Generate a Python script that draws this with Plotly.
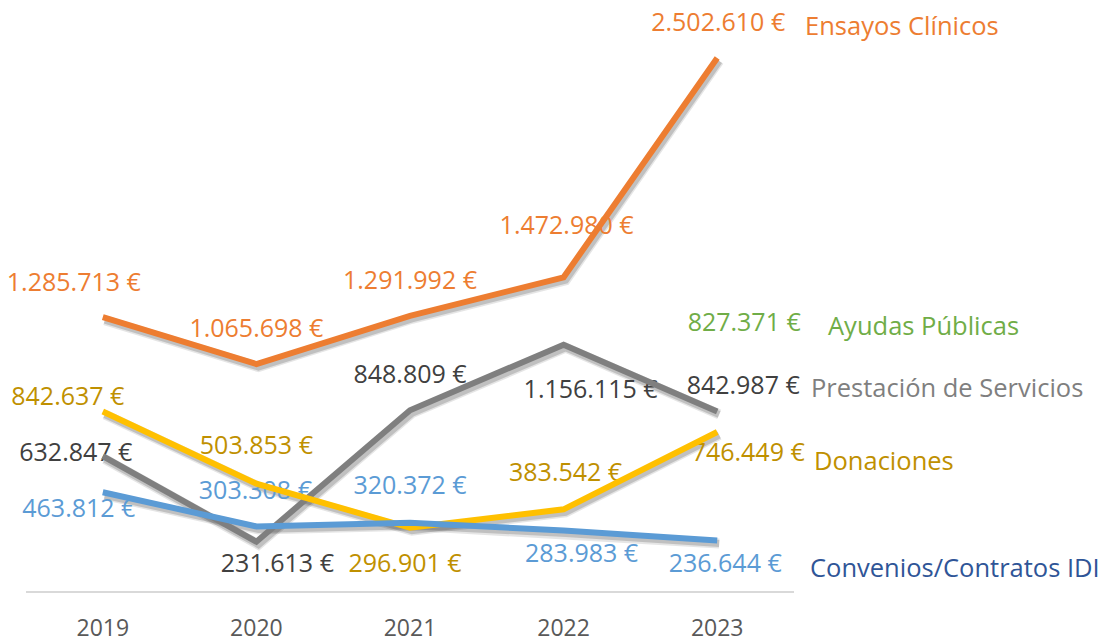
import plotly.graph_objects as go

years = ["2019", "2020", "2021", "2022", "2023"]
ensayos = [1285713, 1065698, 1291992, 1472980, 2502610]
prestacion = [632847, 231613, 848809, 1156115, 842987]
donaciones = [842637, 503853, 296901, 383542, 746449]
convenios = [463812, 303308, 320372, 283983, 236644]
ayudas = [None, None, None, None, 827371]

names = ["Ensayos Clínicos", "Ayudas Públicas", "Prestación de Servicios", "Donaciones", "Convenios/Contratos IDI"]

# label offsets in pixels (dx right, dy down) relative to each point
off_ens = [(-29, -32), (0, -33), (0, -33), (3, -50), (1, -33)]
off_pre = [(-27, -1), (21, 24), (0, -33), (27, 47), (26, -24)]
off_don = [(-35, -13), (0, -36), (-5, 38), (2, -35), (31, 23)]
off_con = [(-24, 19), (-1, -34), (0, -35), (18, 25), (8, 25)]
off_ayu = [None, None, None, None, (27, -90)]

W, H = 1110, 639
ML, MR, MT, MB = 18, 324, 0, 56
PW, PH = W - ML - MR, H - MT - MB
YMAX = 2502610 * PH / 533.0
XR = [-0.5, 4.5]
px_x = PW / 5.0
px_y = YMAX / PH

def fmt(v):
    return f"{v:,.0f}".replace(",", ".") + " €"

series = [
    (ensayos, off_ens, "#ED7D31", "#ED7D31"),
    (prestacion, off_pre, "#7F7F7F", "#404040"),
    (donaciones, off_don, "#FFC000", "#BF9000"),
    (convenios, off_con, "#5B9BD5", "#5B9BD5"),
]

fig = go.Figure()
xs = list(range(len(years)))
FONT = "Open Sans"

# shadows (on shifted axes)
for vals, _, lc, _ in series:
    fig.add_trace(go.Scatter(x=xs, y=vals, mode="lines", line=dict(color="rgba(0,0,0,0.10)", width=10),
                             xaxis="x", yaxis="y", hoverinfo="skip", showlegend=False))
    fig.add_trace(go.Scatter(x=xs, y=vals, mode="lines", line=dict(color="rgba(0,0,0,0.16)", width=7),
                             xaxis="x", yaxis="y", hoverinfo="skip", showlegend=False))

# value labels
def add_labels(vals, offs, color):
    tx, ty, tt = [], [], []
    for i, (v, o) in enumerate(zip(vals, offs)):
        if v is None or o is None:
            continue
        tx.append(i + o[0] / px_x)
        ty.append(v - o[1] * px_y)
        tt.append(fmt(v))
    fig.add_trace(go.Scatter(x=tx, y=ty, mode="text", text=tt, textposition="middle center",
                             textfont=dict(family=FONT, size=25, color=color), cliponaxis=False,
                             xaxis="x2", yaxis="y2", hoverinfo="skip", showlegend=False))

for vals, offs, _, tc in series:
    add_labels(vals, offs, tc)
add_labels(ayudas, off_ayu, "#70AD47")

# lines
for (vals, _, lc, _), nm in zip(series, [names[0], names[2], names[3], names[4]]):
    fig.add_trace(go.Scatter(x=xs, y=vals, mode="lines", name=nm, line=dict(color=lc, width=6),
                             xaxis="x2", yaxis="y2", showlegend=False))

# series name labels
name_specs = [
    (names[0], ensayos[4], 86, -33, "#ED7D31"),
    (names[1], ayudas[4], 109, -90, "#70AD47"),
    (names[2], prestacion[4], 92, -24, "#7F7F7F"),
    (names[3], donaciones[4], 95, 28, "#BF9000"),
    (names[4], convenios[4], 91, 26, "#2F5597"),
]
for nm, v, dx, dy, c in name_specs:
    fig.add_annotation(x=4, y=v, xref="x2", yref="y2", text=nm, showarrow=False,
                       xanchor="left", yanchor="middle", xshift=dx, yshift=-dy,
                       font=dict(family=FONT, size=25.5, color=c))

sx, sy = 2, 3
fig.update_layout(
    width=W, height=H,
    margin=dict(l=ML, r=MR, t=MT, b=MB),
    paper_bgcolor="white", plot_bgcolor="white",
    xaxis=dict(range=[XR[0] - sx / px_x, XR[1] - sx / px_x], visible=False, fixedrange=True),
    yaxis=dict(range=[sy * px_y, YMAX + sy * px_y], visible=False, fixedrange=True),
    xaxis2=dict(range=XR, overlaying="x", anchor="y2", side="bottom",
                tickmode="array", tickvals=xs, ticktext=years,
                showgrid=False, zeroline=False, showline=True, linecolor="#D9D9D9", linewidth=2,
                ticks="", ticklabelstandoff=15,
                tickfont=dict(family=FONT, size=23, color="#595959"), automargin=False),
    yaxis2=dict(range=[0, YMAX], overlaying="y", anchor="x2", visible=False),
)

fig.write_html("out.html")
